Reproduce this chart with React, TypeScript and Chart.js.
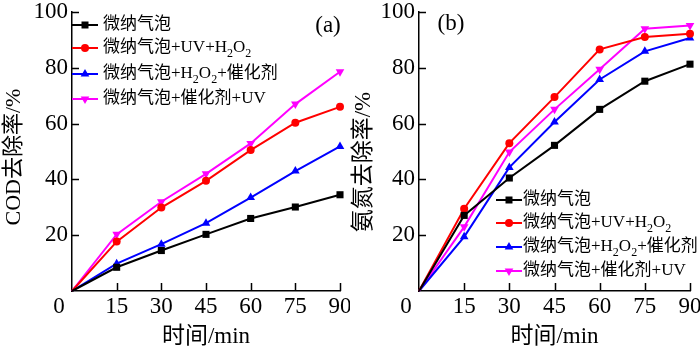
import React, { useEffect, useRef } from 'react';
import { Chart, registerables } from 'chart.js';

Chart.register(...registerables);

// ---------- data ----------
const times = [0, 15, 30, 45, 60, 75, 90];
const xTickValues = [0, 15, 30, 45, 60, 75, 90];
const yTickValues = [0, 20, 40, 60, 80, 100];
const seriesNames = ['微纳气泡', '微纳气泡+UV+H_2O_2', '微纳气泡+H_2O_2+催化剂', '微纳气泡+催化剂+UV'];
const xTitle = '时间/min';

// (a) COD removal %
const codBubble = [0, 8.5, 14.5, 20.3, 26.0, 30.1, 34.5];
const codUvH2o2 = [0, 17.7, 29.9, 39.5, 50.5, 60.3, 66.0];
const codH2o2Cat = [0, 9.8, 16.8, 24.3, 33.5, 43.0, 51.8];
const codCatUv = [0, 20.3, 32.0, 42.0, 52.9, 67.0, 78.6];

// (b) ammonia nitrogen removal %
const nhBubble = [0, 27.1, 40.5, 52.2, 65.1, 75.2, 81.3];
const nhUvH2o2 = [0, 29.5, 53.0, 69.5, 86.6, 91.0, 92.2];
const nhH2o2Cat = [0, 19.4, 44.3, 60.6, 75.8, 85.9, 90.7];
const nhCatUv = [0, 23.0, 49.8, 65.1, 79.5, 94.0, 95.2];

const colors = ['#000000', '#ff0000', '#0000ff', '#ff00ff'];
const markers = ['rect', 'circle', 'triangle', 'invtriangle'];

const FAMILY = "'Liberation Serif', 'Times New Roman', 'Noto Sans CJK SC', serif";
const TICK_SIZE = 23;

type PanelCfg = {
  series: number[][];
  yTitle: string;
  yTitleSize: number;
  yTitleX: number;
  yTitleY: number;
  panelLabel: string;
  labelX: number;
  labelY: number;
  yWidth: number;
  legendX: number;
  legendTextX: number;
  legendY: number[];
};

function drawMarker(ctx: CanvasRenderingContext2D, kind: string, x: number, y: number, color: string) {
  ctx.save();
  ctx.fillStyle = color;
  ctx.beginPath();
  if (kind === 'rect') {
    ctx.rect(x - 3.5, y - 3.5, 7, 7);
  } else if (kind === 'circle') {
    ctx.arc(x, y, 4, 0, Math.PI * 2);
  } else if (kind === 'triangle') {
    const r = 5;
    ctx.moveTo(x, y - r);
    ctx.lineTo(x + r * 0.866, y + r * 0.5);
    ctx.lineTo(x - r * 0.866, y + r * 0.5);
    ctx.closePath();
  } else {
    const r = 5;
    ctx.moveTo(x, y + r);
    ctx.lineTo(x + r * 0.866, y - r * 0.5);
    ctx.lineTo(x - r * 0.866, y - r * 0.5);
    ctx.closePath();
  }
  ctx.fill();
  ctx.restore();
}

function drawRich(ctx: CanvasRenderingContext2D, text: string, x: number, y: number, size: number) {
  const parts = text.split(/(_\d)/);
  let cx = x;
  ctx.textBaseline = 'middle';
  ctx.textAlign = 'left';
  ctx.fillStyle = '#000';
  for (const p of parts) {
    if (!p) continue;
    if (p.startsWith('_')) {
      const s = p.slice(1);
      ctx.font = `${Math.round(size * 0.68)}px ${FAMILY}`;
      ctx.fillText(s, cx, y + size * 0.32);
      cx += ctx.measureText(s).width;
    } else {
      ctx.font = `${size}px ${FAMILY}`;
      ctx.fillText(p, cx, y);
      cx += ctx.measureText(p).width;
    }
  }
}

function makeOverlay(cfg: PanelCfg) {
  return {
    id: 'overlay',
    afterDraw(chart: any) {
      const ctx: CanvasRenderingContext2D = chart.ctx;
      const xs = chart.scales.x;
      const ys = chart.scales.y;
      const area = chart.chartArea;
      ctx.save();
      // inward ticks
      ctx.strokeStyle = '#000';
      ctx.lineWidth = 1.5;
      ctx.beginPath();
      for (const v of xTickValues) {
        if (v === 0) continue;
        const px = Math.round(xs.getPixelForValue(v)) + 0.5;
        ctx.moveTo(px, area.bottom);
        ctx.lineTo(px, area.bottom - 8);
      }
      for (const v of yTickValues) {
        if (v === 0) continue;
        const py = Math.round(ys.getPixelForValue(v)) + 0.5;
        ctx.moveTo(area.left, py);
        ctx.lineTo(area.left + 7, py);
      }
      ctx.stroke();
      ctx.fillStyle = '#000';
      ctx.textAlign = 'center';
      ctx.textBaseline = 'middle';
      // origin "0"
      ctx.font = `${TICK_SIZE}px ${FAMILY}`;
      ctx.fillText(String(xTickValues[0]), xs.getPixelForValue(0) - 13, area.bottom + 16);
      // panel label
      ctx.fillText(cfg.panelLabel, cfg.labelX, cfg.labelY);
      // x title
      ctx.font = `23px ${FAMILY}`;
      ctx.fillText(xTitle, (area.left + area.right) / 2, 337);
      // y title
      ctx.save();
      ctx.translate(cfg.yTitleX, cfg.yTitleY);
      ctx.rotate(-Math.PI / 2);
      ctx.font = `${cfg.yTitleSize}px ${FAMILY}`;
      ctx.fillText(cfg.yTitle, 0, 0);
      ctx.restore();
      // legend
      seriesNames.forEach((name, i) => {
        const y = cfg.legendY[i];
        ctx.strokeStyle = colors[i];
        ctx.lineWidth = 2;
        ctx.beginPath();
        ctx.moveTo(cfg.legendX, y);
        ctx.lineTo(cfg.legendX + 26, y);
        ctx.stroke();
        drawMarker(ctx, markers[i], cfg.legendX + 13, y, colors[i]);
        drawRich(ctx, name, cfg.legendTextX, y, 17);
      });
      ctx.restore();
    },
  };
}

function Panel({ cfg }: { cfg: PanelCfg }) {
  const ref = useRef<HTMLCanvasElement>(null);
  useEffect(() => {
    if (!ref.current) return;
    const chart = new Chart(ref.current, {
      type: 'line',
      data: {
        datasets: cfg.series.map((vals, i) => {
          const r = markers[i] === 'circle' ? 4 : 5;
          return {
            label: seriesNames[i],
            data: times.map((t, j) => ({ x: t, y: vals[j] })),
            borderColor: colors[i],
            backgroundColor: colors[i],
            borderWidth: 2,
            tension: 0,
            pointStyle: markers[i] === 'invtriangle' ? 'triangle' : (markers[i] as any),
            rotation: markers[i] === 'invtriangle' ? 180 : 0,
            pointRadius: times.map((t) => (t === 0 ? 0 : r)),
            pointBorderWidth: 0,
            pointBackgroundColor: colors[i],
            clip: false,
          };
        }),
      },
      options: {
        responsive: false,
        animation: false,
        devicePixelRatio: 1,
        layout: { padding: { left: 0, right: 10, top: 12, bottom: 0 } },
        plugins: { legend: { display: false }, tooltip: { enabled: false } },
        scales: {
          x: {
            type: 'linear',
            min: 0,
            max: 90,
            afterBuildTicks: (s: any) => {
              s.ticks = xTickValues.map((v) => ({ value: v }));
            },
            afterFit: (s: any) => {
              s.height = 59;
              s.paddingLeft = 0;
              s.paddingRight = 0;
            },
            ticks: {
              callback: (v: any) => (v === 0 ? '' : String(v)),
              font: { family: FAMILY, size: TICK_SIZE },
              color: '#000',
              padding: 2,
              maxRotation: 0,
              autoSkip: false,
            },
            grid: { display: false, drawTicks: false },
            border: { display: true, color: '#000', width: 1.5 },
            title: { display: false },
          },
          y: {
            type: 'linear',
            min: 0,
            max: 100,
            afterBuildTicks: (s: any) => {
              s.ticks = yTickValues.map((v) => ({ value: v }));
            },
            afterFit: (s: any) => {
              s.width = cfg.yWidth;
              s.paddingTop = 0;
              s.paddingBottom = 0;
            },
            ticks: {
              callback: (v: any) => (v === 0 ? '' : String(v)),
              font: { family: FAMILY, size: TICK_SIZE },
              color: '#000',
              padding: 4,
              autoSkip: false,
            },
            grid: { display: false, drawTicks: false },
            border: { display: true, color: '#000', width: 1.5 },
            title: { display: false },
          },
        },
      },
      plugins: [makeOverlay(cfg)],
    } as any);
    return () => chart.destroy();
  }, [cfg]);
  return <canvas ref={ref} width={350} height={350} style={{ display: 'block', width: 350, height: 350 }} />;
}

const panelA: PanelCfg = {
  series: [codBubble, codUvH2o2, codH2o2Cat, codCatUv],
  yTitle: 'COD去除率/%',
  yTitleSize: 22,
  yTitleX: 14,
  yTitleY: 157,
  panelLabel: '(a)',
  labelX: 328,
  labelY: 26,
  yWidth: 72,
  legendX: 72,
  legendTextX: 103,
  legendY: [25, 48, 74, 99],
};

const panelB: PanelCfg = {
  series: [nhBubble, nhUvH2o2, nhH2o2Cat, nhCatUv],
  yTitle: '氨氮去除率/%',
  yTitleSize: 23,
  yTitleX: 14,
  yTitleY: 162,
  panelLabel: '(b)',
  labelX: 101,
  labelY: 24,
  yWidth: 69,
  legendX: 146,
  legendTextX: 173,
  legendY: [200, 223, 247, 271],
};

export default function App() {
  return (
    <div style={{ position: 'absolute', left: 0, top: 0, width: 700, height: 350, display: 'flex', background: '#fff' }}>
      <Panel cfg={panelA} />
      <Panel cfg={panelB} />
    </div>
  );
}
